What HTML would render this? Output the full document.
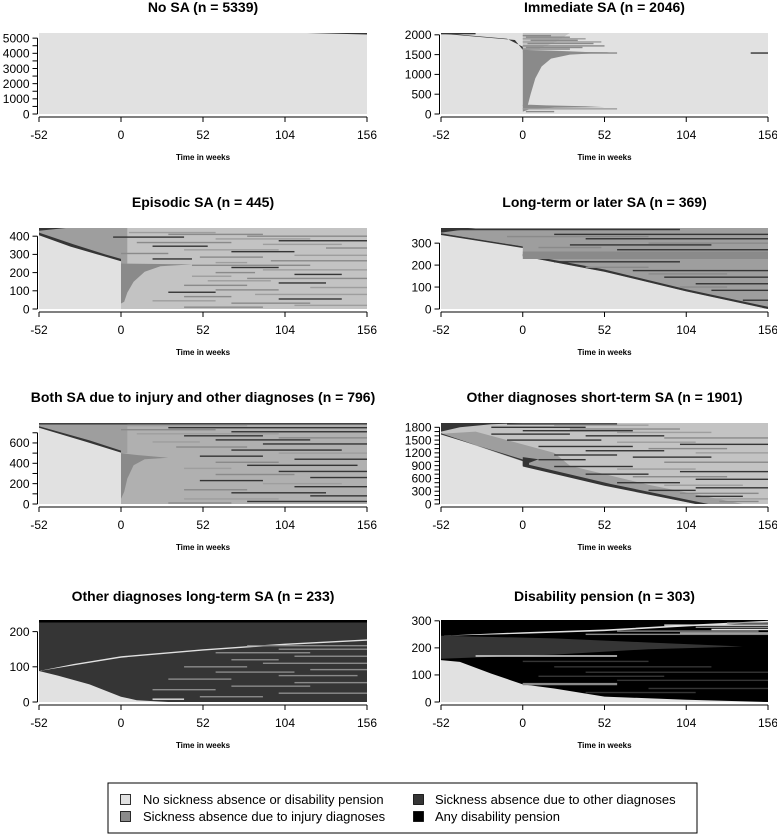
<!DOCTYPE html>
<html><head><meta charset="utf-8">
<style>
html,body{margin:0;padding:0;background:#fff;}
svg{display:block;font-family:"Liberation Sans",Arial,sans-serif;}
</style></head>
<body>
<svg id="fig" width="777" height="834" viewBox="0 0 777 834" xmlns="http://www.w3.org/2000/svg">
  <defs id="defs"></defs>
  <g id="panels"></g>
  <g id="legend">
    <rect x="108" y="783" width="589" height="50" fill="#fff" stroke="#000" stroke-width="1"/>
    <g>
      <rect x="120.5" y="794.5" width="10" height="10" fill="#e1e1e1" stroke="#000" stroke-width="0.8"/>
      <text x="143" y="804" font-size="13">No sickness absence or disability pension</text>
    </g>
    <g>
      <rect x="120.5" y="811.5" width="10" height="10" fill="#8a8a8a" stroke="#000" stroke-width="0.8"/>
      <text x="143" y="821" font-size="13">Sickness absence due to injury diagnoses</text>
    </g>
    <g>
      <rect x="413.5" y="794.5" width="10" height="10" fill="#353535" stroke="#000" stroke-width="0.8"/>
      <text x="435" y="804" font-size="13">Sickness absence due to other diagnoses</text>
    </g>
    <g>
      <rect x="413.5" y="811.5" width="10" height="10" fill="#000" stroke="#000" stroke-width="0.8"/>
      <text x="435" y="821" font-size="13">Any disability pension</text>
    </g>
  </g>
</svg>
<script>
// ---------- data ----------
const titles = ["No SA (n = 5339)","Immediate SA (n = 2046)","Episodic SA (n = 445)","Long-term or later SA (n = 369)","Both SA due to injury and other diagnoses (n = 796)","Other diagnoses short-term SA (n = 1901)","Other diagnoses long-term SA (n = 233)","Disability pension (n = 303)"];
const nSeq = [5339,2046,445,369,796,1901,233,303];
const xTicks = [-52,0,52,104,156];
const p1YTicks = [0,500,1000,1500,2000,2500,3000,3500,4000,4500,5000];
const p1YLabels = [0,1000,2000,3000,4000,5000];
const p2YTicks = [0,500,1000,1500,2000];
const p2YLabels = [0,500,1000,1500,2000];
const p3YTicks = [0,100,200,300,400];
const p3YLabels = [0,100,200,300,400];
const p4YTicks = [0,100,200,300];
const p4YLabels = [0,100,200,300];
const p5YTicks = [0,100,200,300,400,500,600,700];
const p5YLabels = [0,200,400,600];
const p6YTicks = [0,100,200,300,400,500,600,700,800,900,1000,1100,1200,1300,1400,1500,1600,1700,1800];
const p6YLabels = [0,300,600,900,1200,1500,1800];
const p7YTicks = [0,100,200];
const p7YLabels = [0,100,200];
const p8YTicks = [0,100,200,300];
const p8YLabels = [0,100,200,300];

const baseState = [0,0,0,0,0,0,2,3];

const p1Polys = [[2,[118,5339,156,5339,156,5240]]];
const p2Polys = [
 [4,[0,2046,30,2046,20,1800,10,1650,0,1600]],
 [1,[0,1620,20,1600,40,1570,0,1560]],
 [1,[0,1580,0,200,3,200,5,500,8,900,12,1200,18,1400,30,1500,52,1545,55,1560]],
 [1,[0,230,5,232,15,218,40,195,52,175,20,160,5,130,0,60]],
 [2,[-52,2046,-52,2030,-5,1870,0,1620,0,1700,-10,1900]]
];
const p3Polys = [
 [4,[0,0,156,0,156,445,0,445]],
 [6,[-52,445,0,445,0,270,-10,290,-30,350,-52,415]],
 [2,[-52,420,-30,355,-10,300,0,275,0,262,-12,292,-32,343,-52,405]],
 [2,[-52,445,-35,445,-52,430]],
 [6,[0,250,4,250,4,445,0,445]],
 [1,[0,30,0,250,45,245,25,235,15,205,8,150,4,90,2,40]]
];
const p4Polys = [
 [6,[-52,345,-52,369,156,369,156,0,104,80,52,170,0,240,0,285]],
 [2,[-52,369,-30,369,-52,348]],
 [2,[-52,345,0,285,0,278,-52,337]],
 [2,[0,240,52,170,104,80,156,0,156,10,104,90,52,180,0,250]],
 [1,[0,228,156,228,156,262,0,262]]
];
const p5Polys = [
 [7,[0,0,156,0,156,796,0,796]],
 [6,[-52,796,0,796,0,520,-20,620,-52,760]],
 [2,[-52,765,-20,625,0,525,0,505,-22,610,-52,750]],
 [6,[0,500,4,500,4,796,0,796]],
 [1,[0,50,0,500,10,482,30,455,15,440,8,380,4,250,2,120]]
];
const p6Polys = [
 [4,[-52,1650,-52,1901,156,1901,156,0,110,0,52,450,0,900,0,1000]],
 [6,[-52,1650,0,1000,0,900,52,450,110,0,140,0,80,450,30,900,20,1200,-30,1700]],
 [2,[-52,1901,0,1901,-20,1870,-40,1800,-52,1700]],
 [2,[-52,1660,0,1010,0,880,52,430,110,0,118,0,56,470,4,920,4,1000,-52,1630]],
 [2,[0,900,0,1100,10,1050,3,950]]
];
const p7Polys = [
 [0,[-52,0,-52,88,-40,75,-20,50,0,15,10,5,30,0]],
 [3,[-52,226,156,226,156,233,-52,233]],
 [0,[-52,88,-30,108,0,130,52,150,104,166,156,178,156,174,104,162,52,146,0,126,-30,104]]
];
const p8Polys = [
 [0,[-52,0,-52,155,-40,148,-20,105,0,65,20,50,52,20,104,8,156,0]],
 [2,[-52,160,-52,245,20,235,80,220,140,205,80,195,20,175]],
 [0,[-52,245,0,258,52,268,104,285,156,300,156,295,104,279,52,262,0,252]],
 [1,[0,62,60,62,60,70,0,70]]
];

const p1Stripes = [];
const p2Stripes = [[1540,145,156,2],[1540,20,60,1],[1980,0,18,1],[1940,2,30,1],[1900,0,40,6],[1860,5,35,1],[1820,0,50,6],[1780,3,45,1],[1720,0,52,1],[1680,2,38,1],[1640,0,30,1],[130,0,60,6],[60,2,20,1],[2030,-52,-30,2]];
const p3Stripes = [[420,5,60,6],[410,30,90,1],[400,80,156,1],[395,-5,40,2],[385,60,120,6],[375,100,156,2],[365,10,70,1],[355,90,140,6],[345,20,55,2],[335,130,156,1],[325,40,100,6],[315,70,110,2],[305,0,30,1],[295,110,156,6],[285,50,90,1],[275,20,45,2],[265,95,156,1],[255,60,80,6],[240,45,120,1],[228,70,100,2],[215,90,156,6],[200,60,85,1],[190,110,140,2],[180,45,70,6],[168,80,156,1],[155,55,95,6],[143,100,130,2],[130,40,80,1],[118,120,156,6],[105,60,100,1],[92,30,60,2],[80,85,156,6],[68,40,70,1],[55,100,140,2],[45,20,60,6],[32,70,120,1],[20,110,156,6],[10,40,90,1]];
const p4Stripes = [[362,-52,100,2],[352,-30,156,6],[340,20,156,2],[330,-10,80,1],[320,40,156,2],[310,0,60,6],[300,80,156,1],[292,30,120,2],[280,10,50,1],[270,60,156,2],[215,20,100,2],[200,50,156,6],[190,40,80,1],[175,70,156,2],[160,80,130,1],[145,90,156,2],[130,100,140,6],[115,110,156,2],[100,100,130,1],[85,120,156,2],[60,130,156,6],[40,140,156,2]];
const p5Stripes = [[788,-52,156,2],[770,-20,80,6],[750,30,156,2],[730,0,60,1],[710,70,156,2],[690,10,100,6],[670,40,90,2],[650,100,156,1],[630,60,120,2],[610,20,50,6],[590,90,156,2],[560,35,80,1],[530,70,140,2],[500,100,156,6],[470,50,90,2],[440,110,156,2],[410,60,100,1],[380,80,150,2],[350,40,70,6],[320,100,156,2],[290,60,110,1],[260,120,156,2],[230,50,90,2],[200,90,140,6],[170,110,156,2],[140,40,80,1],[110,70,130,2],[80,120,156,2],[50,40,100,6],[25,80,156,2],[10,30,70,1]];
const p6Stripes = [[1880,-10,60,2],[1850,20,80,6],[1800,-20,40,2],[1760,30,100,1],[1720,0,70,2],[1680,60,120,6],[1640,-20,30,2],[1600,40,90,2],[1550,90,156,1],[1500,-10,50,2],[1450,60,110,6],[1400,100,156,2],[1350,10,70,2],[1300,80,130,1],[1250,40,90,2],[1200,110,156,6],[1150,20,60,2],[1100,70,120,2],[1040,10,40,2],[980,90,156,1],[880,20,70,2],[820,60,110,6],[760,100,156,2],[700,40,80,2],[640,70,130,1],[580,110,156,2],[500,60,100,2],[440,90,140,6],[380,110,156,2],[320,80,110,2],[250,100,150,1],[180,110,140,2],[120,120,156,6],[60,125,150,1]];
const p7Stripes = [[160,80,156,1],[150,100,156,1],[140,60,120,1],[130,110,156,1],[120,70,100,1],[110,90,156,1],[100,40,80,1],[92,120,156,1],[85,60,110,1],[75,100,150,1],[65,30,70,1],[55,110,156,1],[45,70,120,1],[35,20,60,1],[25,100,156,1],[15,50,90,1],[8,20,40,0]];
const p8Stripes = [[292,130,156,1],[284,90,156,0],[276,110,156,1],[268,120,156,0],[262,60,150,1],[255,100,156,4],[250,40,156,1],[170,-30,60,0],[150,0,80,2],[130,20,120,2],[110,40,156,2],[95,10,90,2],[80,60,156,2],[68,0,60,1],[50,80,156,2],[35,40,110,2]];

// ---------- rendering ----------
const stateColor = ["#e1e1e1","#8a8a8a","#353535","#000000","#c3c3c3","#5a5a5a","#9e9e9e","#b0b0b0"];
const allYTicks = [p1YTicks,p2YTicks,p3YTicks,p4YTicks,p5YTicks,p6YTicks,p7YTicks,p8YTicks];
const allYLabels = [p1YLabels,p2YLabels,p3YLabels,p4YLabels,p5YLabels,p6YLabels,p7YLabels,p8YLabels];
const allPolys = [p1Polys,p2Polys,p3Polys,p4Polys,p5Polys,p6Polys,p7Polys,p8Polys];
const allStripes = [p1Stripes,p2Stripes,p3Stripes,p4Stripes,p5Stripes,p6Stripes,p7Stripes,p8Stripes];
const colLeft = [39,441], colWidth = [328,327];
const rowOff = [0,195,390,587];
const NS = "http://www.w3.org/2000/svg";
function mk(tag, attrs, parent){
  const e = document.createElementNS(NS, tag);
  for (const k in attrs) e.setAttribute(k, attrs[k]);
  parent.appendChild(e); return e;
}
const root = document.getElementById("panels");
const defs = document.getElementById("defs");
const slug = ["no-sa","immediate-sa","episodic-sa","long-term-later-sa","both-sa","other-short-term-sa","other-long-term-sa","disability-pension"];

for (let i = 0; i < 8; i++) {
  const c = i % 2, r = Math.floor(i / 2);
  const L = colLeft[c], W = colWidth[c];
  const T = 33 + rowOff[r], B = 114 + rowOff[r] + (r === 3 ? 1 : 0);
  const n = nSeq[i];
  const xs = w => L + (w + 52) / 208 * W;
  const ys = v => B - v / n * (B - T);

  const g = mk("g", {}, root);
  
  

  const t = mk("text", {x: L + W / 2, y: 12 + rowOff[r] + (r===3?2:0), "text-anchor": "middle", "font-size": "14", "font-weight": "bold"}, g);
  t.textContent = titles[i];
  
  

  const cp = mk("clipPath", {id: "clip" + i}, defs);
  mk("rect", {x: L, y: T, width: W, height: B - T}, cp);

  const plot = mk("g", {"clip-path": "url(#clip" + i + ")"}, g);
  
  

  const bg = mk("rect", {x: L, y: T, width: W, height: B - T, fill: stateColor[baseState[i]]}, plot);
  
  

  allPolys[i].forEach(p => {
    const pts = [];
    for (let k = 0; k < p[1].length; k += 2) pts.push(xs(p[1][k]).toFixed(1) + "," + ys(p[1][k + 1]).toFixed(1));
    const pg = mk("polygon", {points: pts.join(" "), fill: stateColor[p[0]]}, plot);
    
    
  });
  allStripes[i].forEach(s => {
    const y = ys(s[0]);
    const rc = mk("rect", {x: xs(s[1]), y: y - 0.7, width: Math.max(0, xs(s[2]) - xs(s[1])), height: 1.4, fill: stateColor[s[3]]}, plot);
    
    
  });

  const xa = mk("g", {stroke: "#000", "stroke-width": "1"}, g);
  
  
  const ay = B + 3;
  mk("line", {x1: xs(xTicks[0]), x2: xs(xTicks[xTicks.length - 1]), y1: ay, y2: ay}, xa);
  xTicks.forEach(v => {
    mk("line", {x1: xs(v), x2: xs(v), y1: ay, y2: ay + 5}, xa);
    const tl = mk("text", {x: xs(v), y: ay + 22, "text-anchor": "middle", "font-size": "12", stroke: "none", fill: "#000"}, xa);
    tl.textContent = v;
    
    
  });
  const xt = mk("text", {x: L + W / 2, y: ay + 43, "text-anchor": "middle", "font-size": "8", "font-weight": "bold"}, g);
  xt.textContent = "Time in weeks";
  
  

  const ya = mk("g", {stroke: "#000", "stroke-width": "1"}, g);
  
  
  const ax = L - 1.5;
  const yt = allYTicks[i];
  mk("line", {x1: ax, x2: ax, y1: ys(yt[0]), y2: ys(yt[yt.length - 1])}, ya);
  yt.forEach(v => mk("line", {x1: ax - 5, x2: ax, y1: ys(v), y2: ys(v)}, ya));
  allYLabels[i].forEach(v => {
    const yl = mk("text", {x: ax - 8, y: ys(v) + 4.3, "text-anchor": "end", "font-size": "12", stroke: "none", fill: "#000"}, ya);
    yl.textContent = v;
    
    
  });
}
</script>
</body></html>
